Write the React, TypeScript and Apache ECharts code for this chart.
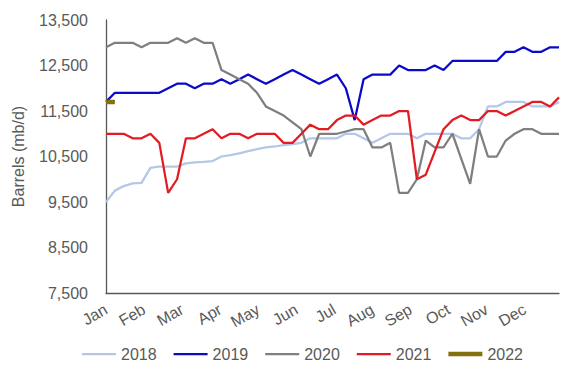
import React, { useEffect, useRef } from 'react';
import * as echarts from 'echarts';

const weeks = Array.from({ length: 52 }, (_, i) => `W${i + 1}`);
const months = ['Jan', 'Feb', 'Mar', 'Apr', 'May', 'Jun', 'Jul', 'Aug', 'Sep', 'Oct', 'Nov', 'Dec'];
const yTicks = [7500, 8500, 9500, 10500, 11500, 12500, 13500];

const y2018 = [9500, 9750, 9850, 9910, 9920, 10250, 10280, 10280, 10280, 10350, 10370, 10380, 10400, 10500, 10530, 10570, 10620, 10660, 10700, 10720, 10750, 10770, 10800, 10900, 10900, 10900, 10900, 11000, 11000, 10900, 10800, 10900, 11000, 11000, 11000, 10900, 11000, 11000, 11000, 11000, 10900, 10900, 11100, 11600, 11600, 11700, 11700, 11700, 11600, 11600, 11600, 11700];
const y2019 = [11700, 11900, 11900, 11900, 11900, 11900, 11900, 12000, 12100, 12100, 12000, 12100, 12100, 12200, 12100, 12200, 12300, 12200, 12100, 12200, 12300, 12400, 12300, 12200, 12100, 12200, 12300, 12000, 11300, 12200, 12300, 12300, 12300, 12500, 12400, 12400, 12400, 12500, 12400, 12600, 12600, 12600, 12600, 12600, 12600, 12800, 12800, 12900, 12800, 12800, 12900, 12900];
const y2020 = [12900, 13000, 13000, 13000, 12900, 13000, 13000, 13000, 13100, 13000, 13100, 13000, 13000, 12400, 12300, 12200, 12100, 11900, 11600, 11500, 11400, 11250, 11100, 10500, 11000, 11000, 11000, 11050, 11100, 11100, 10700, 10700, 10800, 9700, 9700, 10000, 10850, 10700, 10700, 11000, 10450, 9900, 11100, 10500, 10500, 10850, 11000, 11100, 11100, 11000, 11000, 11000];
const y2021 = [11000, 11000, 11000, 10900, 10900, 11000, 10800, 9700, 10000, 10900, 10900, 11000, 11100, 10900, 11000, 11000, 10900, 11000, 11000, 11000, 10800, 10800, 11000, 11200, 11100, 11100, 11300, 11400, 11400, 11200, 11300, 11400, 11400, 11500, 11500, 10000, 10100, 10600, 11100, 11300, 11400, 11300, 11300, 11500, 11500, 11400, 11500, 11600, 11700, 11700, 11600, 11800];
const y2022 = [11700, 11700];

const seriesNames = ['2018', '2019', '2020', '2021', '2022'];
const seriesData = [y2018, y2019, y2020, y2021, y2022];
const seriesColors = ['#B4C7E7', '#0A0AC8', '#7F7F7F', '#E31B23', '#85700F'];
const seriesWidths = [2.25, 2.25, 2.25, 2.25, 4.5];

const FONT = '"Liberation Sans", Arial, sans-serif';
const TXT = '#595959';

function fmt(v: number) {
  return String(v).replace(/\B(?=(\d{3})+(?!\d))/g, ',');
}

export default function App() {
  const ref = useRef<HTMLDivElement>(null);
  useEffect(() => {
    const chart = echarts.init(ref.current!, null, { renderer: 'svg' });
    chart.setOption({
      animation: false,
      backgroundColor: '#ffffff',
      grid: { left: 106, right: 4, top: 20, bottom: 72, containLabel: false },
      xAxis: [
        {
          type: 'category',
          data: weeks,
          boundaryGap: false,
          position: 'top',
          show: false,
        },
        {
          type: 'value',
          min: 0,
          max: 11.9,
          interval: 1,
          position: 'bottom',
          axisLine: { show: true, onZero: false, lineStyle: { color: '#595959', width: 1.3 } },
          axisTick: { show: false },
          splitLine: { show: false },
          axisLabel: {
            rotate: 30,
            margin: 15,
            color: TXT,
            fontSize: 16,
            fontFamily: FONT,
            showMaxLabel: false,
            formatter: (v: number) => (Number.isInteger(v) && v >= 0 && v < 12 ? months[v] : ''),
          },
        },
      ],
      yAxis: {
        type: 'value',
        min: 7500,
        max: 13500,
        interval: 500,
        axisLine: { show: true, lineStyle: { color: '#595959', width: 1.3 } },
        axisTick: { show: false },
        splitLine: { show: false },
        axisLabel: {
          margin: 18,
          color: TXT,
          fontSize: 16,
          fontFamily: FONT,
          formatter: (v: number) => (yTicks.includes(v) ? fmt(v) : ''),
        },
        name: 'Barrels (mb/d)',
        nameLocation: 'middle',
        nameGap: 80,
        nameTextStyle: { color: TXT, fontSize: 16, fontFamily: FONT },
      },
      legend: {
        data: seriesNames.map((name, k) => ({
          name,
          icon: `path://M0,0H34V${seriesWidths[k]}H0Z`,
        })),
        left: 77,
        top: 341,
        itemWidth: 34,
        itemHeight: 14,
        itemGap: 17,
        textStyle: { color: TXT, fontSize: 16, fontFamily: FONT },
      },
      series: seriesNames.map((name, k) => ({
        name,
        type: 'line',
        xAxisIndex: 0,
        data: seriesData[k],
        symbol: 'none',
        showSymbol: false,
        lineStyle: { color: seriesColors[k], width: seriesWidths[k] },
        itemStyle: { color: seriesColors[k] },
        z: k === 4 ? 10 : 2 + k,
      })),
    });
    return () => chart.dispose();
  }, []);
  return <div ref={ref} style={{ position: 'absolute', left: 0, top: 0, width: 563, height: 365 }} />;
}
